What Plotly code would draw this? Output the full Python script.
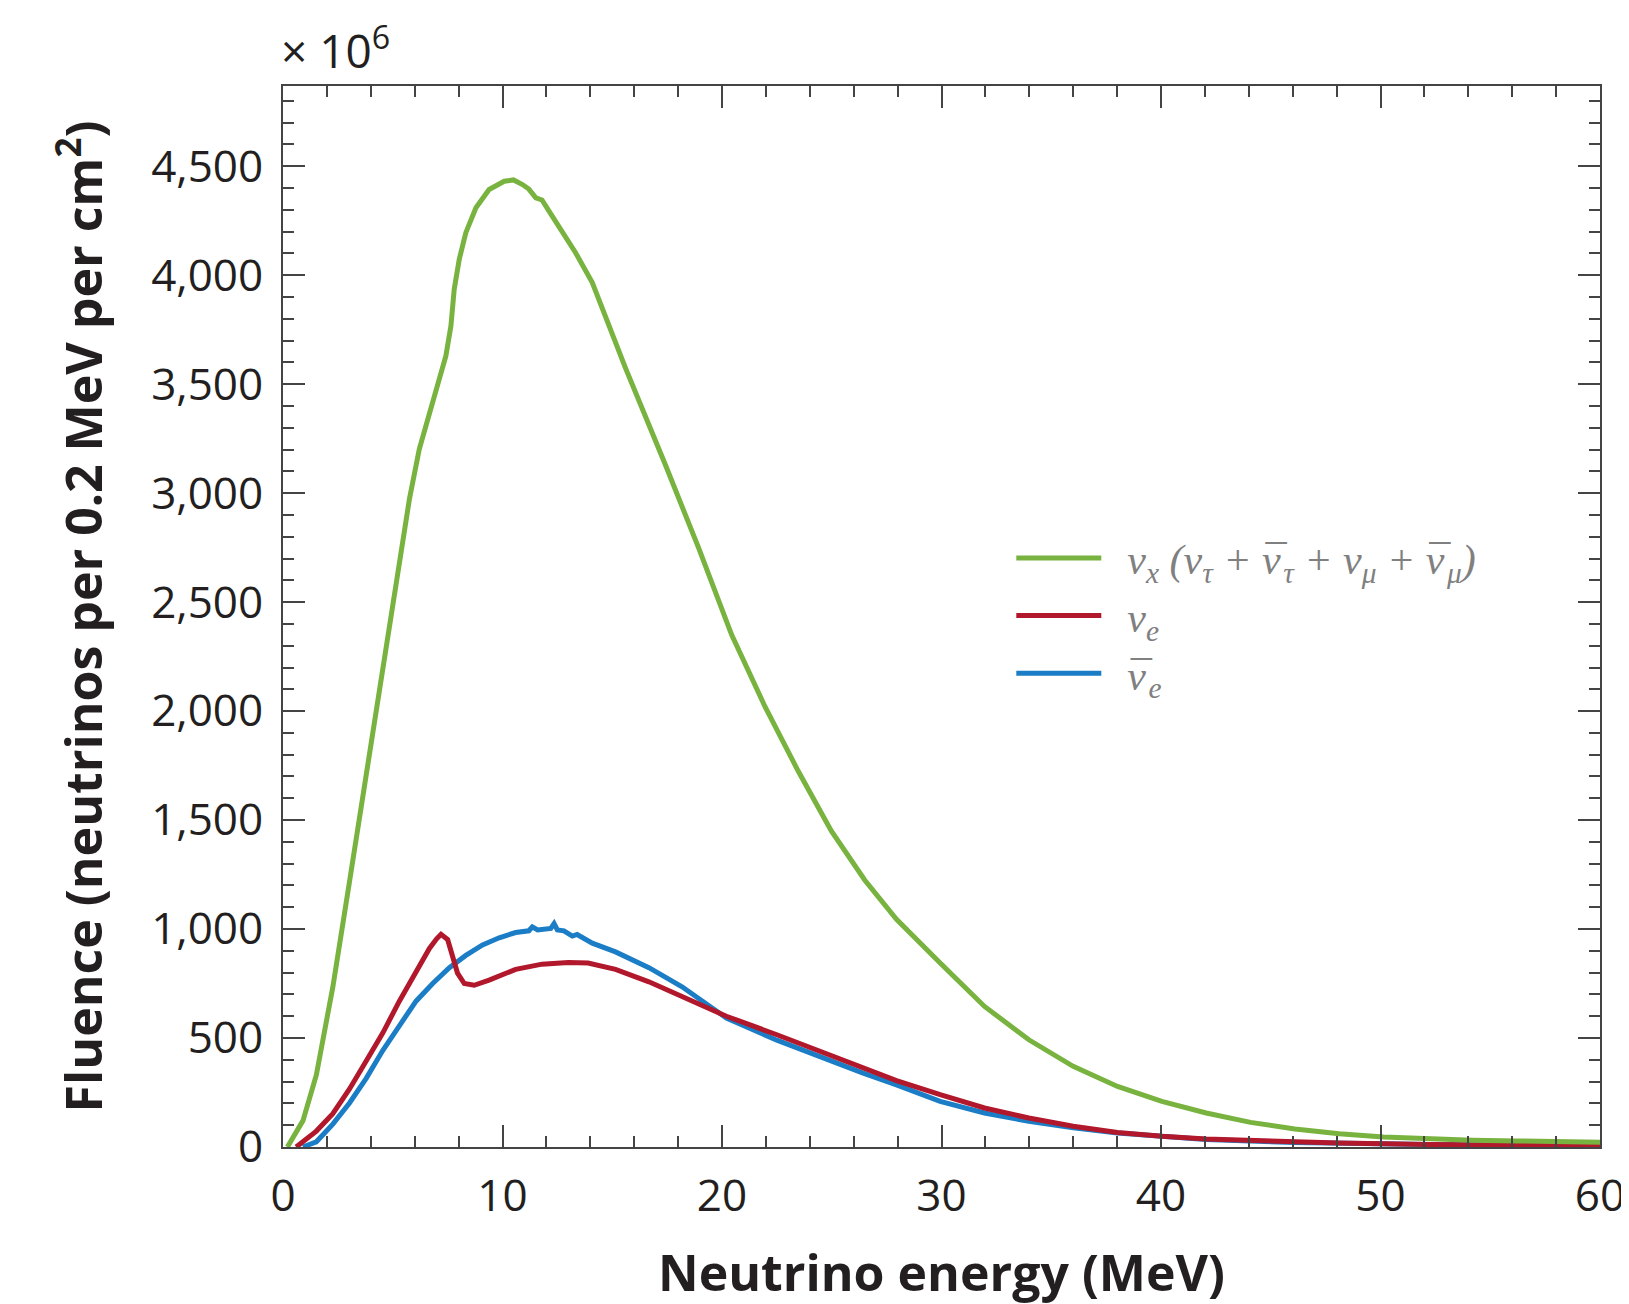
import plotly.graph_objects as go

# Neutrino energy (MeV) and fluence (x10^6 neutrinos per 0.2 MeV per cm^2)
nux_E = [0.2, 0.91, 1.52, 2.27, 3.03, 3.79, 4.55, 5.15, 5.76, 6.21, 6.82, 7.42, 7.65, 7.80, 8.03, 8.33, 8.79, 9.39,
         10.08, 10.5, 10.91, 11.2, 11.52, 11.8, 12.12, 12.4, 12.73, 13.33, 14.09, 15.15, 15.6, 17.42, 18.93,
         20.44, 21.96, 23.47, 24.98, 26.5, 27.95, 29.94, 31.96, 33.98, 36.0, 38.02, 40.04, 42.06, 44.08,
         46.1, 48.12, 50.14, 52.16, 54.18, 56.2, 60.0]
nux_F = [0, 121, 331, 734, 1218, 1702, 2185, 2600, 2973, 3202, 3416, 3630, 3767, 3935, 4073, 4195, 4309, 4393,
         4431, 4437, 4416, 4395, 4355, 4345, 4294, 4250, 4195, 4103, 3966, 3690, 3575, 3130, 2750,
         2350, 2020, 1725, 1450, 1225, 1045, 844, 645, 492, 370, 278, 209, 156, 113,
         83, 61, 46, 37, 31, 28, 22]

nue_E = [0.6, 1.52, 2.27, 3.03, 3.79, 4.55, 5.30, 6.06, 6.67, 7.0, 7.2, 7.5, 7.73, 7.95, 8.26, 8.71, 9.39, 10.6,
         11.8, 13.0, 13.9, 15.15, 16.67, 18.18, 20.2, 22.5, 24.9, 26.4, 27.95, 29.94, 31.96, 33.98, 36.0,
         38.02, 40.04, 42.06, 44.08, 48.1, 52.2, 60.0]
nue_F = [0, 73, 153, 266, 395, 524, 669, 798, 911, 955, 976, 952, 879, 798, 750, 742, 766, 815,
         839, 847, 844, 815, 758, 690, 600, 515, 420, 365, 305, 240, 179, 133, 95,
         67, 49, 37, 29, 18, 12, 5]

anue_E = [0.91, 1.52, 2.27, 3.03, 3.79, 4.55, 5.30, 6.06, 6.82, 7.58, 8.33, 9.09, 9.85, 10.6, 11.2, 11.36, 11.6,
          12.2, 12.35, 12.5, 12.8, 13.18, 13.4, 14.09, 15.15, 16.67, 18.18, 20.2, 22.5, 24.9, 26.4, 27.95,
          29.94, 31.96, 33.98, 36.0, 38.02, 42.06, 46.1, 52.2, 60.0]
anue_F = [0, 24, 105, 202, 315, 444, 556, 669, 750, 823, 879, 927, 960, 984, 992, 1010, 996,
          1003, 1025, 996, 992, 968, 975, 935, 895, 823, 735, 592, 490, 395, 340, 285,
          209, 156, 118, 88, 64, 34, 21, 12, 5]

NUBAR = "<span style=\"letter-spacing:-0.44em\">ν</span><span style=\"letter-spacing:0.0em\">¯</span>"
series_names = [
    "\u2002ν<sub>x</sub> (ν<sub>τ</sub> + " + NUBAR + "<sub>τ</sub> + ν<sub>μ</sub> + " + NUBAR + "<sub>μ</sub>)",
    "\u2002ν<sub>e</sub>",
    "\u2002" + NUBAR + "<sub>e</sub>",
]
colors = ["#78B23F", "#B2182B", "#1B7DC5"]

x_ticks = [0, 10, 20, 30, 40, 50, 60]
y_ticks = [0, 500, 1000, 1500, 2000, 2500, 3000, 3500, 4000, 4500]

fig = go.Figure()
fig.add_trace(go.Scatter(x=anue_E, y=anue_F, mode="lines", name=series_names[2],
                         line=dict(color=colors[2], width=5), legendrank=3))
fig.add_trace(go.Scatter(x=nue_E, y=nue_F, mode="lines", name=series_names[1],
                         line=dict(color=colors[1], width=5), legendrank=2))
fig.add_trace(go.Scatter(x=nux_E, y=nux_F, mode="lines", name=series_names[0],
                         line=dict(color=colors[0], width=5), legendrank=1))

axis_common = dict(
    showline=True, linecolor="#444444", linewidth=2, mirror="ticks",
    ticks="inside", ticklen=22, tickwidth=2, tickcolor="#444444",
    showgrid=False, zeroline=False,
    tickfont=dict(family="Open Sans", size=44, color="#231f20"),
)

fig.update_xaxes(
    range=[0, 60], tickvals=x_ticks, ticktext=[str(v) for v in x_ticks],
    minor=dict(dtick=2, ticks="inside", ticklen=11, tickwidth=2, tickcolor="#444444", showgrid=False),
    title=dict(text="<b>Neutrino energy (MeV)</b>", font=dict(family="Open Sans", size=50, color="#231f20"), standoff=33),
    ticklabelstandoff=9,
    **axis_common,
)
fig.update_yaxes(
    range=[0, 4868], tickvals=y_ticks, ticktext=[f"{v:,}" for v in y_ticks],
    minor=dict(dtick=100, tick0=0, ticks="inside", ticklen=11, tickwidth=2, tickcolor="#444444", showgrid=False),
    title=dict(text="<b>Fluence (neutrinos per 0.2 MeV per cm<sup>2</sup>)</b>",
               font=dict(family="Open Sans", size=50, color="#231f20"), standoff=33),
    ticklabelstandoff=9,
    **axis_common,
)

fig.add_annotation(
    text="× 10<sup>6</sup>", xref="paper", yref="paper", x=0, y=1, xanchor="left", yanchor="bottom",
    yshift=3, xshift=-4, showarrow=False, font=dict(family="Open Sans", size=46, color="#231f20"),
)

fig.update_layout(
    width=1629, height=1304,
    margin=dict(l=275, r=32, t=78, b=165),
    plot_bgcolor="white", paper_bgcolor="white",
    showlegend=True,
    legend=dict(
        x=0.553, y=0.587, xanchor="left", yanchor="top",
        bgcolor="rgba(0,0,0,0)", traceorder="normal",
        font=dict(family="Liberation Serif", size=42, color="#808080", style="italic"),
        itemwidth=85, tracegroupgap=0,
    ),
)

fig.write_html("out.html")
